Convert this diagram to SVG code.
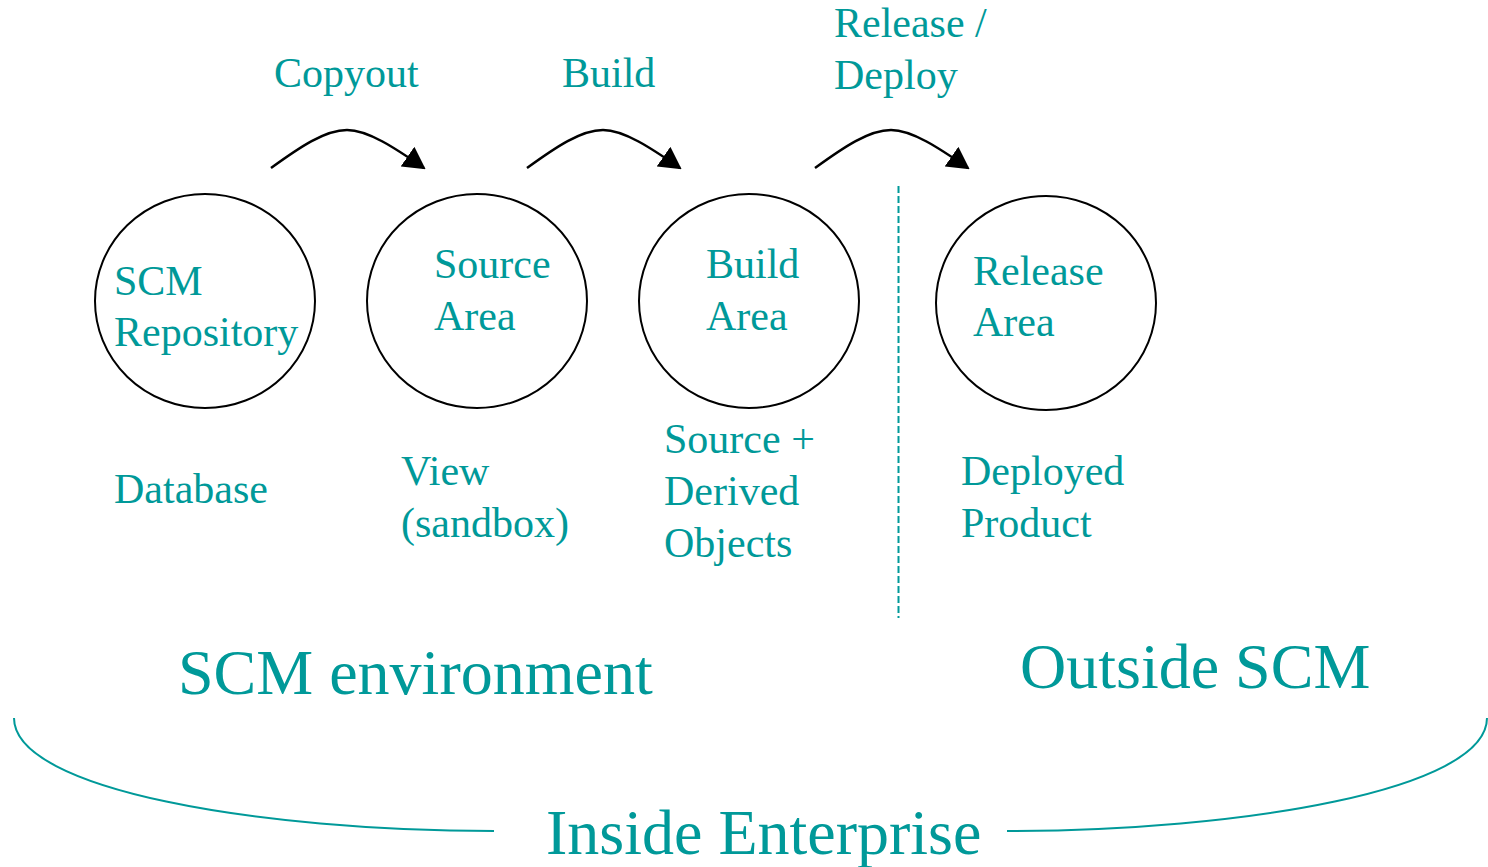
<svg xmlns="http://www.w3.org/2000/svg" width="1488" height="867" viewBox="0 0 1488 867">
  <style>
    text { font-family: "Liberation Serif", "Times New Roman", serif; fill: #009999; }
    .lbl { font-size: 42px; }
    .big { font-size: 64px; }
    .node { fill: none; stroke: #000; stroke-width: 2; }
    .flow { fill: none; stroke: #000; stroke-width: 2.5; marker-end: url(#head); }
    .brace { fill: none; stroke: #009999; stroke-width: 2; }
  </style>
  <defs>
    <marker id="head" markerUnits="userSpaceOnUse" markerWidth="22" markerHeight="24" viewBox="0 0 22 24" refX="20" refY="12" orient="auto">
      <path d="M0,0 L22,12 L0,24 z" fill="#000"/>
    </marker>
  </defs>

  <rect width="1488" height="867" fill="#fff"/>

  <!-- step labels -->
  <text class="lbl" x="274" y="87">Copyout</text>
  <text class="lbl" x="562" y="87">Build</text>
  <text class="lbl" x="834" y="37">Release /</text>
  <text class="lbl" x="834" y="89">Deploy</text>

  <!-- connectors -->
  <g id="connectors">
    <path class="flow" d="M271,168 C300,147 325,130 347,130 C368,130 395,148 424,168"/>
    <path class="flow" d="M527,168 C556,147 581,130 603,130 C624,130 651,148 680,168"/>
    <path class="flow" d="M815,168 C844,147 869,130 891,130 C912,130 939,148 968,168"/>
  </g>

  <!-- boundary between SCM and outside -->
  <line x1="898.5" y1="186" x2="898.5" y2="618" stroke="#009999" stroke-width="2" stroke-dasharray="7 3"/>

  <g id="scm-repository">
    <ellipse class="node" cx="205" cy="301" rx="110" ry="107"/>
    <text class="lbl" x="114" y="295">SCM</text>
    <text class="lbl" x="114" y="346">Repository</text>
    <text class="lbl" x="114" y="503">Database</text>
  </g>

  <g id="source-area">
    <ellipse class="node" cx="477" cy="301" rx="110" ry="107"/>
    <text class="lbl" x="434" y="278">Source</text>
    <text class="lbl" x="434" y="330">Area</text>
    <text class="lbl" x="401" y="485">View</text>
    <text class="lbl" x="401" y="537">(sandbox)</text>
  </g>

  <g id="build-area">
    <ellipse class="node" cx="749" cy="301" rx="110" ry="107"/>
    <text class="lbl" x="706" y="278">Build</text>
    <text class="lbl" x="706" y="330">Area</text>
    <text class="lbl" x="664" y="453">Source +</text>
    <text class="lbl" x="664" y="505">Derived</text>
    <text class="lbl" x="664" y="557">Objects</text>
  </g>

  <g id="release-area">
    <ellipse class="node" cx="1046" cy="303" rx="110" ry="107"/>
    <text class="lbl" x="973" y="285">Release</text>
    <text class="lbl" x="973" y="336">Area</text>
    <text class="lbl" x="961" y="485">Deployed</text>
    <text class="lbl" x="961" y="537">Product</text>
  </g>

  <!-- region captions -->
  <text class="big" x="178" y="694">SCM environment</text>
  <text class="big" x="1020" y="688">Outside SCM</text>

  <!-- enterprise brace -->
  <path class="brace" d="M14,718 C14,790 260,831 494,831"/>
  <path class="brace" d="M1007,831 C1241,831 1487,790 1487,718"/>
  <text class="big" x="546" y="854">Inside Enterprise</text>
</svg>
